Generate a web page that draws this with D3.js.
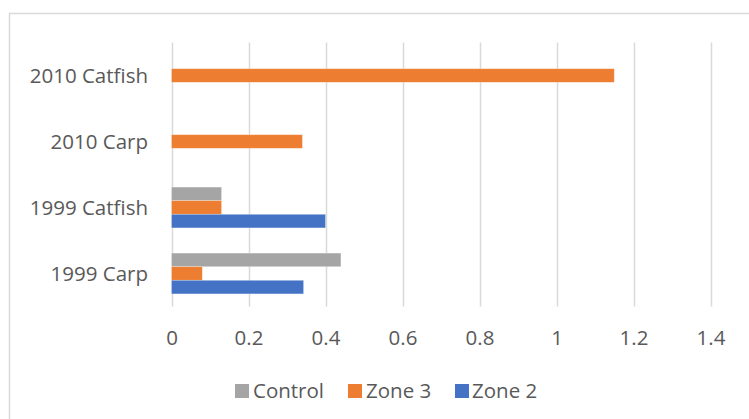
<!DOCTYPE html>
<html>
<head>
<meta charset="utf-8">
<script src="https://cdn.jsdelivr.net/npm/d3@7"></script>
<style>
  html, body { margin: 0; padding: 0; background: #fff; }
  svg { display: block; }
  text { font-family: "Open Sans", sans-serif; fill: #595959; }
</style>
</head>
<body>
<svg id="chart" width="749" height="419"></svg>
<script>
const categories = ["1999 Carp", "1999 Catfish", "2010 Carp", "2010 Catfish"];
const seriesNames = ["Control", "Zone 3", "Zone 2"];
const seriesColors = ["#a5a5a5", "#ed7d31", "#4472c4"];
const controlValues = [0.44, 0.13, null, null];
const zone3Values = [0.08, 0.13, 0.34, 1.15];
const zone2Values = [0.343, 0.40, null, null];
const xTicks = [0, 0.2, 0.4, 0.6, 0.8, 1, 1.2, 1.4];
const xTickLabels = ["0", "0.2", "0.4", "0.6", "0.8", "1", "1.2", "1.4"];

const seriesValues = [controlValues, zone3Values, zone2Values];
const FONT = "'Open Sans', sans-serif";
const FS = "20.5px";

const svg = d3.select("#chart");

// frame
svg.append("rect")
  .attr("x", 9.5).attr("y", 13.5)
  .attr("width", 760).attr("height", 430)
  .attr("fill", "none").attr("stroke", "#d9d9d9").attr("stroke-width", 1.5);

const plot = { left: 171.5, right: 710.5, top: 42.5, bottom: 306.5 };

const x = d3.scaleLinear().domain([0, 1.4]).range([plot.left, plot.right]);
const y = d3.scaleBand().domain(categories.slice().reverse())
  .range([plot.top, plot.bottom]).paddingInner(0).paddingOuter(0);

const groupH = y.bandwidth() * (3 * 13.6) / 66;
const y1 = d3.scaleBand().domain(seriesNames).range([0, groupH]);

// gridlines
svg.append("g").selectAll("line").data(xTicks).join("line")
  .attr("x1", d => Math.round(x(d)) + 0.5).attr("x2", d => Math.round(x(d)) + 0.5)
  .attr("y1", plot.top).attr("y2", plot.bottom)
  .attr("stroke", "#d9d9d9").attr("stroke-width", 1.5);

// x axis labels
const xAxis = d3.axisBottom(x).tickValues(xTicks)
  .tickFormat((d, i) => xTickLabels[i]).tickSize(0).tickPadding(0);
const gx = svg.append("g").attr("transform", `translate(0, ${plot.bottom})`).call(xAxis);
gx.select(".domain").remove();
gx.selectAll("text")
  .attr("y", 0).attr("dy", null)
  .attr("transform", "translate(0, 33)")
  .style("font-size", FS).style("font-family", FONT)
  .attr("fill", "#595959").attr("dominant-baseline", "middle");

// y axis labels
const yAxis = d3.axisLeft(y).tickSize(0).tickPadding(0);
const gy = svg.append("g").attr("transform", `translate(148, 2)`).call(yAxis);
gy.select(".domain").remove();
gy.selectAll("text")
  .attr("x", 0).attr("dy", null)
  .attr("dominant-baseline", "middle")
  .style("font-size", FS).style("font-family", FONT)
  .attr("fill", "#595959");

// bars
const barData = [];
categories.forEach((c, ci) => {
  seriesNames.forEach((s, si) => {
    const v = seriesValues[si][ci];
    if (v !== null && v !== undefined) barData.push({ cat: c, series: s, si, value: v });
  });
});

svg.append("g").selectAll("rect").data(barData).join("rect")
  .attr("x", x(0))
  .attr("y", d => y(d.cat) + (y.bandwidth() - groupH) / 2 + y1(d.series))
  .attr("width", d => x(d.value) - x(0))
  .attr("height", y1.bandwidth())
  .attr("fill", d => seriesColors[d.si])
  .attr("stroke", "#ffffff").attr("stroke-opacity", 0.35).attr("stroke-width", 0.75);

// legend
const legendItems = [
  { name: "Control", sx: 235, tx: 253 },
  { name: "Zone 3", sx: 348, tx: 366 },
  { name: "Zone 2", sx: 455, tx: 472 }
];
const lg = svg.append("g");
legendItems.forEach((it, i) => {
  lg.append("rect").attr("x", it.sx).attr("y", 384).attr("width", 14).attr("height", 14)
    .attr("fill", seriesColors[i]);
  lg.append("text").attr("x", it.tx).attr("y", 392.5)
    .attr("dominant-baseline", "middle")
    .style("font-size", FS).style("font-family", FONT)
    .text(it.name);
});
</script>
</body>
</html>
